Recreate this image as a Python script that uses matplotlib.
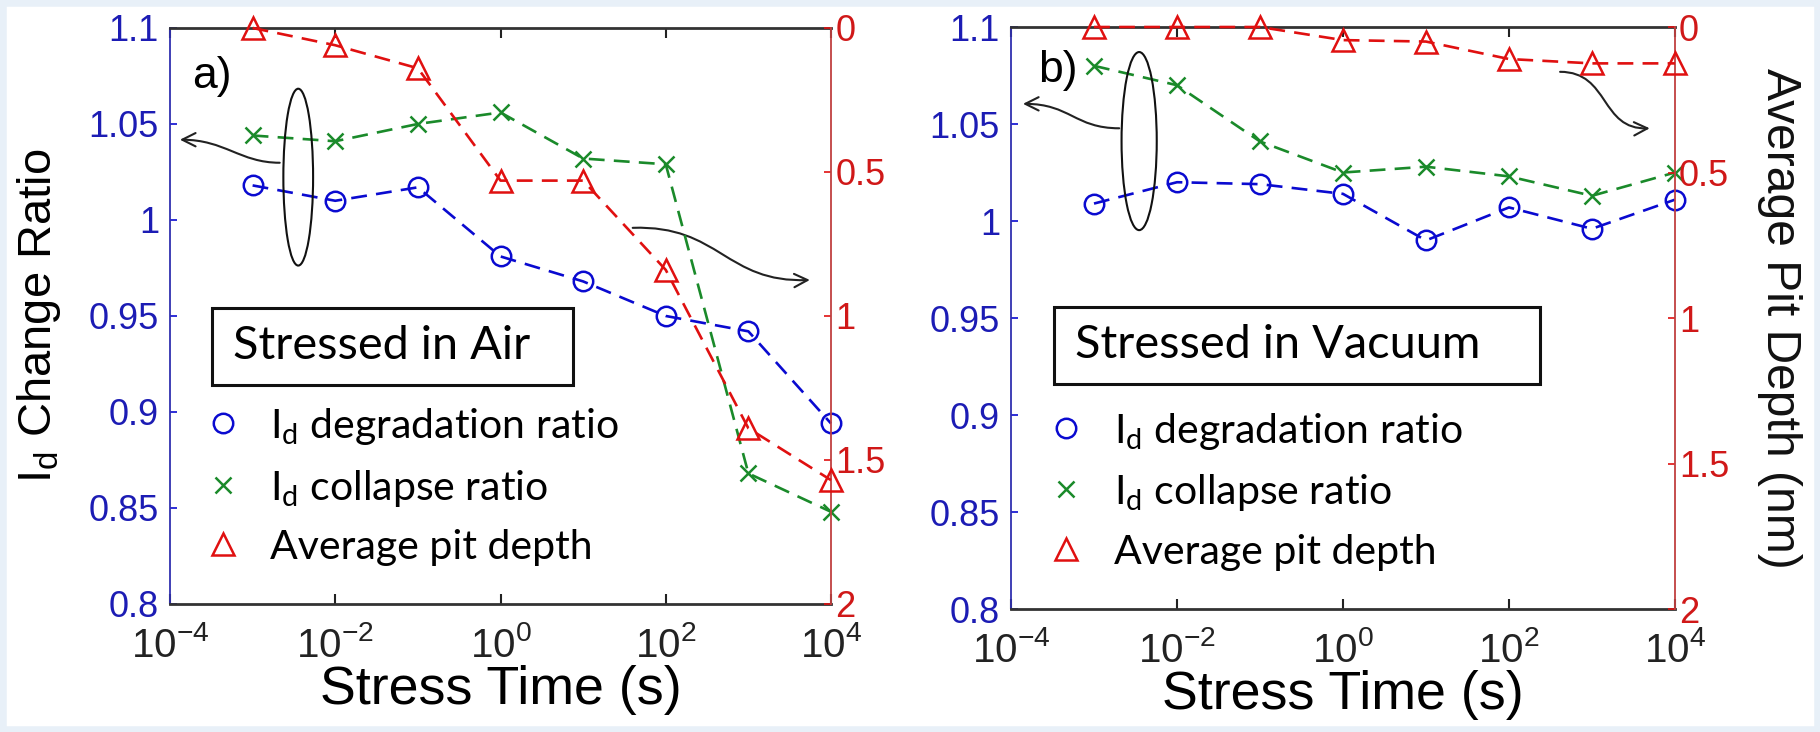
import matplotlib
matplotlib.use("Agg")
import matplotlib.pyplot as plt
from matplotlib.patches import Ellipse, Rectangle, FancyArrowPatch
from matplotlib.path import Path
from matplotlib.lines import Line2D
from matplotlib.ticker import FuncFormatter, NullLocator

plt.rcParams['font.family'] = ['Liberation Sans', 'DejaVu Sans']

# data
times = [1e-3, 1e-2, 1e-1, 1e0, 1e1, 1e2, 1e3, 1e4]
air_degradation = [1.018, 1.010, 1.017, 0.981, 0.968, 0.950, 0.942, 0.894]
air_collapse = [1.044, 1.041, 1.050, 1.056, 1.032, 1.029, 0.868, 0.848]
air_pit_depth = [0.0, 0.06, 0.14, 0.53, 0.53, 0.84, 1.39, 1.57]
vac_degradation = [1.009, 1.020, 1.019, 1.014, 0.990, 1.007, 0.996, 1.011]
vac_collapse = [1.080, 1.070, 1.041, 1.025, 1.028, 1.023, 1.013, 1.025]
vac_pit_depth = [0.0, 0.0, 0.0, 0.045, 0.05, 0.11, 0.125, 0.125]

x_ticks = [1e-4, 1e-2, 1e0, 1e2, 1e4]
ratio_ticks = [0.8, 0.85, 0.9, 0.95, 1.0, 1.05, 1.1]
depth_ticks = [0, 0.5, 1, 1.5, 2]
legend_labels = [r'I$_{\mathregular{d}}$ degradation ratio',
                 r'I$_{\mathregular{d}}$ collapse ratio',
                 'Average pit depth']

BLUE = '#0a0ad0'
GREEN = '#1a8a2a'
RED = '#e01010'
BLUE_TXT = '#1c1cb4'
RED_TXT = '#d01818'
DASH = (0, (6, 3.5))
LW = 1.9
BOX_FONT = ['Lato', 'DejaVu Sans']

fig = plt.figure(figsize=(18.2, 7.32), dpi=100)
fig.patches.append(Rectangle((0, 0), 1, 1, transform=fig.transFigure,
                             fill=False, edgecolor='#e8f0f8', lw=9))
renderer = fig.canvas.get_renderer()

ax_a = fig.add_axes([0.0934, 0.1749, 0.3632, 0.7869])
ax_b = fig.add_axes([0.5555, 0.1680, 0.3648, 0.7951])

fmt = FuncFormatter(lambda v, p: '%g' % v)


def fit_width(txt, target_px, horizontal=True):
    bb = txt.get_window_extent(renderer)
    size = bb.width if horizontal else bb.height
    txt.set_fontsize(txt.get_fontsize() * target_px / size)


def bezier_arrow(ax, pts):
    path = Path(pts, [Path.MOVETO, Path.CURVE4, Path.CURVE4, Path.CURVE4])
    arr = FancyArrowPatch(path=path, arrowstyle='->', mutation_scale=24,
                          lw=1.5, color='#222222', transform=ax.transAxes)
    ax.add_patch(arr)


def panel(ax, degr, coll, depth, letter, title, box, text_x, text_y,
          ell, arrow_l, arrow_r, leg_anchor):
    ax2 = ax.twinx()
    ax.plot(times, degr, ls=DASH, color=BLUE, lw=LW, marker='o', ms=14,
            mfc='none', mec=BLUE, mew=1.8, clip_on=False, zorder=3)
    ax.plot(times, coll, ls=DASH, color=GREEN, lw=LW, marker='x', ms=12,
            mec=GREEN, mew=1.8, clip_on=False, zorder=3)
    ax2.plot(times, depth, ls=DASH, color=RED, lw=LW, marker='^', ms=16,
             mfc='none', mec=RED, mew=1.8, clip_on=False, zorder=3)

    ax.set_xscale('log')
    ax.set_xlim(1e-4, 1e4)
    ax.set_xticks(x_ticks)
    ax.xaxis.set_minor_locator(NullLocator())
    ax.set_ylim(0.8, 1.1)
    ax.set_yticks(ratio_ticks)
    ax.yaxis.set_major_formatter(fmt)
    ax2.set_ylim(2, 0)
    ax2.set_yticks(depth_ticks)
    ax2.yaxis.set_major_formatter(fmt)

    ax.tick_params(axis='x', direction='in', top=True, length=7, width=1.5,
                   labelsize=29, pad=16, colors='#222222')
    ax.tick_params(axis='y', direction='in', length=5, width=1.2,
                   labelsize=26, pad=8, colors=BLUE, labelcolor=BLUE_TXT)
    ax2.tick_params(axis='y', direction='in', length=5, width=1.2,
                    labelsize=26, pad=3, colors=RED, labelcolor=RED_TXT)
    ax2.tick_params(axis='x', which='both', top=False, bottom=False)

    for s in ('top', 'bottom'):
        ax.spines[s].set_color('#333333')
        ax.spines[s].set_linewidth(2)
        ax2.spines[s].set_visible(False)
    ax.spines['left'].set_color('#3030b0')
    ax.spines['left'].set_linewidth(1.3)
    ax.spines['right'].set_visible(False)
    ax2.spines['left'].set_visible(False)
    ax2.spines['right'].set_color('#c04040')
    ax2.spines['right'].set_linewidth(1.3)

    xl = ax.set_xlabel('Stress Time (s)', fontsize=36, labelpad=0)
    fit_width(xl, 361)

    ax.text(letter[1], letter[2], letter[0], transform=ax.transAxes,
            fontsize=32, ha='center', va='center')

    ax.add_patch(Rectangle((box[0], box[1]), box[2], box[3],
                           transform=ax.transAxes, fill=True, fc='white',
                           ec='#111111', lw=2.2, zorder=4))
    t = ax.text(text_x, text_y, title, transform=ax.transAxes, fontsize=30,
                family=BOX_FONT, ha='left', va='center', zorder=5)

    ax.add_patch(Ellipse(ell[:2], ell[2], ell[3], transform=ax.transAxes,
                         fill=False, ec='#111111', lw=1.5, zorder=5))
    bezier_arrow(ax, arrow_l)
    bezier_arrow(ax, arrow_r)

    handles = [Line2D([], [], ls='none', marker='o', ms=14, mfc='none',
                      mec=BLUE, mew=1.8),
               Line2D([], [], ls='none', marker='x', ms=12, mec=GREEN,
                      mew=1.8),
               Line2D([], [], ls='none', marker='^', ms=16, mfc='none',
                      mec=RED, mew=1.8)]
    leg = ax.legend(handles, legend_labels, loc='upper left',
                    bbox_to_anchor=leg_anchor, frameon=False, borderpad=0,
                    borderaxespad=0, handlelength=1.0, handletextpad=0.6,
                    labelspacing=0.47, prop={'family': BOX_FONT, 'size': 31})
    return ax2, t, leg


ax2_a, title_a, leg_a = panel(
    ax_a, air_degradation, air_collapse, air_pit_depth,
    ('a)', 0.064, 0.915), 'Stressed in Air',
    (0.064, 0.380, 0.546, 0.134), 0.095, 0.448,
    (0.194, 0.741, 0.045, 0.307),
    [(0.166, 0.766), (0.106, 0.766), (0.083, 0.806), (0.015, 0.806)],
    [(0.700, 0.653), (0.832, 0.658), (0.840, 0.557), (0.968, 0.5625)],
    (0.047, 0.343))
ax2_b, title_b, leg_b = panel(
    ax_b, vac_degradation, vac_collapse, vac_pit_depth,
    ('b)', 0.070, 0.925), 'Stressed in Vacuum',
    (0.065, 0.387, 0.732, 0.132), 0.096, 0.453,
    (0.193, 0.804, 0.053, 0.306),
    [(0.163, 0.826), (0.096, 0.826), (0.089, 0.868), (0.018, 0.868)],
    [(0.827, 0.923), (0.902, 0.923), (0.887, 0.823), (0.962, 0.826)],
    (0.051, 0.340))

# box text and legend sized to the reference widths
fit_width(title_a, 297)
title_b.set_fontsize(title_a.get_fontsize())
ref = leg_a.get_texts()[2]
fit_width(ref, 322)
for leg in (leg_a, leg_b):
    for tx in leg.get_texts():
        tx.set_fontsize(ref.get_fontsize())

yl = ax_a.set_ylabel(r'I$_{\mathregular{d}}$ Change Ratio', fontsize=34)
ax_a.yaxis.set_label_coords(-0.162, 0.5)
fit_width(yl, 335, horizontal=False)
yr = ax2_b.set_ylabel('Average Pit Depth (nm)', fontsize=34, rotation=270,
                      va='bottom', color='#111111')
ax2_b.yaxis.set_label_coords(1.123, 0.5)
fit_width(yr, 501, horizontal=False)

fig.savefig('out.png', dpi=100, facecolor='white')
